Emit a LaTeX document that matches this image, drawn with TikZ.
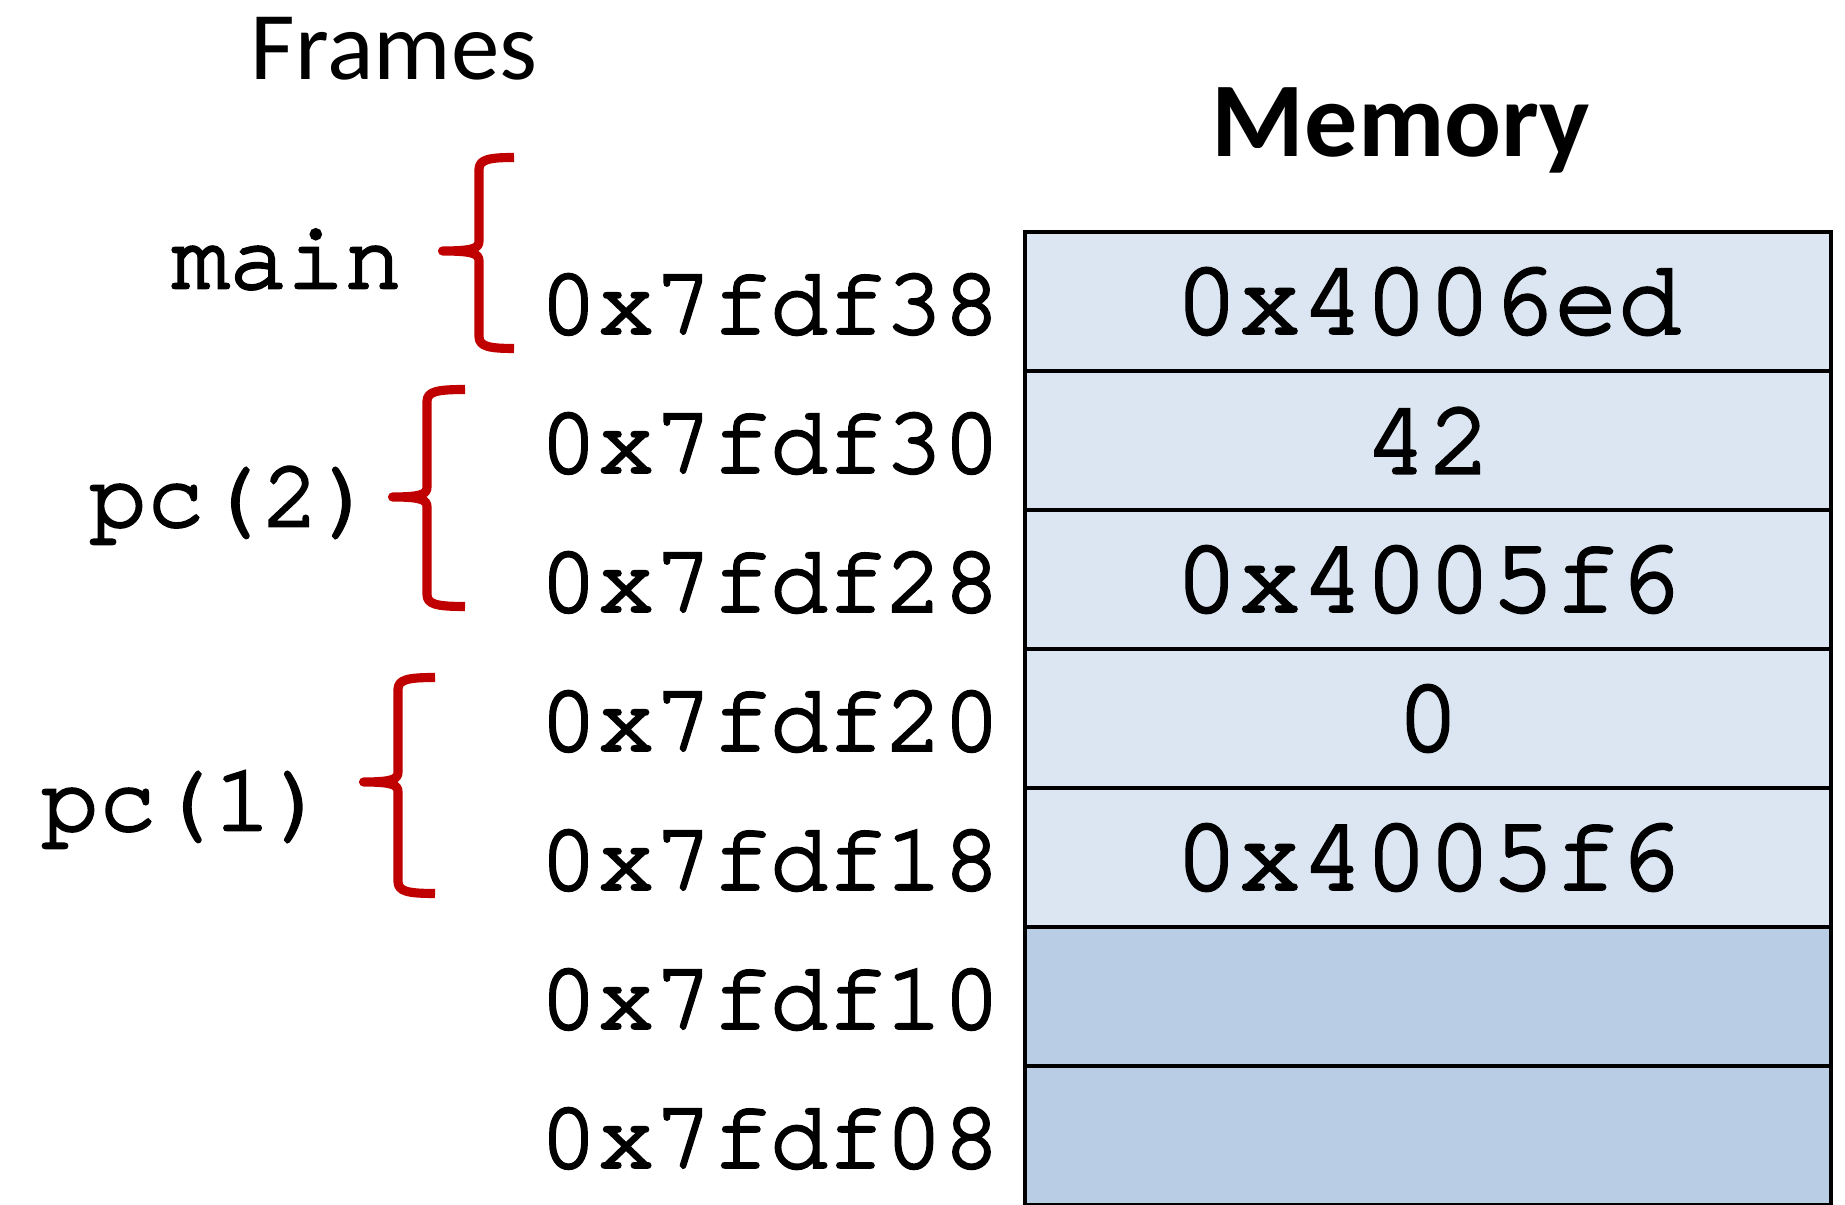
\documentclass[tikz,border=0pt]{standalone}
\usepackage{fontspec}
\setmainfont{Carlito}
\newfontfamily\codefont[FakeBold=3]{texgyrecursor-regular.otf}
\definecolor{cellblue}{HTML}{DCE6F2}
\definecolor{freeblue}{HTML}{B9CDE5}
\definecolor{bracered}{HTML}{C00000}
\tikzset{
  cell/.style={draw=black,line width=1.1pt,minimum width=8.06cm,minimum height=1.39cm,
    inner sep=0pt,font=\codefont\fontsize{30}{33}\selectfont},
  addr/.style={font=\codefont\fontsize{27.3}{30}\selectfont,inner sep=0pt},
  framelabel/.style={font=\codefont\fontsize{27.3}{30}\selectfont,inner sep=0pt,anchor=base},
  framebrace/.style={draw=bracered,line width=2.6pt,line join=round},
}
\begin{document}
\begin{tikzpicture}[x=1cm,y=1cm]
  \useasboundingbox (0,0) rectangle (18.45,12.04);
  % titles
  \node[font=\fontsize{27.6}{30}\selectfont,inner sep=0pt,anchor=base] (frames) at (3.94,11.24) {Frames};
  \node[font=\bfseries\fontsize{30.2}{33}\selectfont,inner sep=0pt,anchor=base] (memory) at (14.01,10.475) {Memory};
  % memory cells and addresses
  \foreach \addr/\val/\shade [count=\i from 0] in {38/0x4006ed/cellblue, 30/42/cellblue, 28/0x4005f6/cellblue,
      20/0/cellblue, 18/0x4005f6/cellblue, 10//freeblue, 08//freeblue} {
    \node[cell,fill=\shade] (cell\i) at (14.28,{9.025-1.39*\i}) {\val};
    \node[addr] (addr\i) at (7.70,{8.995-1.39*\i}) {0x7fdf\addr};
  }
  % frames
  \node[framelabel] (lblmain) at (2.87,9.16) {main};
  \node[framelabel] (lblpctwo) at (2.33,6.78) {pc(2)};
  \node[framelabel] (lblpcone) at (1.85,3.74) {pc(1)};
  \draw[framebrace] (5.14,10.465) .. controls (4.89,10.465) and (4.79,10.445) .. (4.79,10.345) -- (4.79,9.63)
    .. controls (4.79,9.56) and (4.74,9.53) .. (4.425,9.53) .. controls (4.74,9.53) and (4.79,9.50) .. (4.79,9.43)
    -- (4.79,8.675) .. controls (4.79,8.575) and (4.89,8.555) .. (5.14,8.555);
  \draw[framebrace] (4.65,8.145) .. controls (4.37,8.145) and (4.27,8.125) .. (4.27,8.025) -- (4.27,7.17)
    .. controls (4.27,7.10) and (4.22,7.07) .. (3.925,7.07) .. controls (4.22,7.07) and (4.27,7.04) .. (4.27,6.97)
    -- (4.27,6.095) .. controls (4.27,5.995) and (4.37,5.975) .. (4.65,5.975);
  \draw[framebrace] (4.35,5.265) .. controls (4.08,5.265) and (3.98,5.245) .. (3.98,5.145) -- (3.98,4.32)
    .. controls (3.98,4.25) and (3.93,4.22) .. (3.635,4.22) .. controls (3.93,4.22) and (3.98,4.19) .. (3.98,4.12)
    -- (3.98,3.225) .. controls (3.98,3.125) and (4.08,3.105) .. (4.35,3.105);
\end{tikzpicture}
\end{document}
